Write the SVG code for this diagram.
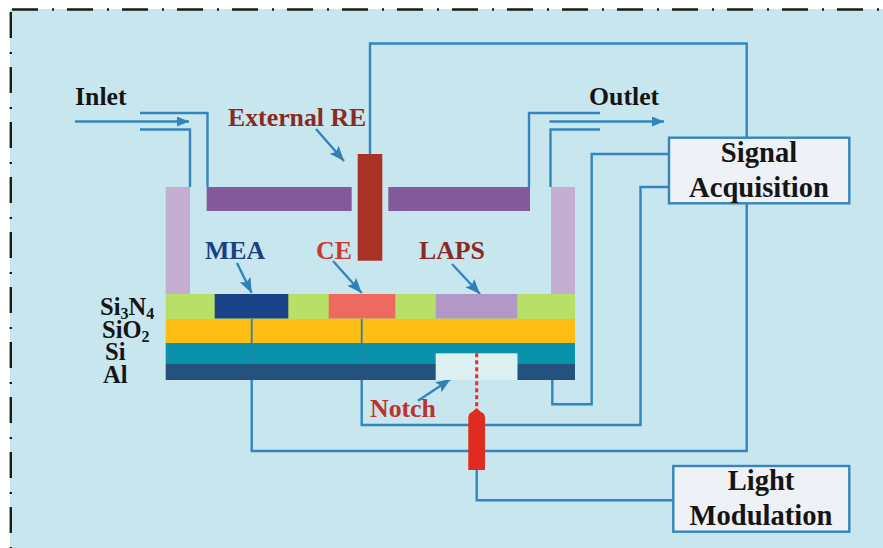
<svg xmlns="http://www.w3.org/2000/svg" width="883" height="548" viewBox="0 0 883 548">
<style>
.w{fill:none;stroke:#3485bd;stroke-width:2.4}
.t{font-family:"Liberation Serif",serif;font-weight:bold;font-size:25.8px}
.k{fill:#151515}
.l{font-size:24.5px}
.s{font-size:16px}
.h{font-size:28.6px}
.b{fill:#eef1f6;stroke:#3485bd;stroke-width:2.4}
</style>
<defs>
<marker id="a" markerUnits="userSpaceOnUse" markerWidth="14" markerHeight="12" refX="12" refY="5" orient="auto"><path d="M0 0L12 5L0 10z" fill="#3485bd"/></marker>
<marker id="p" markerUnits="userSpaceOnUse" markerWidth="18" markerHeight="14" refX="15" refY="6" orient="auto"><path d="M0 0L15 6L0 12L3 6z" fill="#2f80b8"/></marker>
</defs>
<rect width="883" height="548" fill="#fff"/>
<rect id="background" x="10" y="9" width="873" height="539" fill="#c8e6ee"/>
<g id="border" fill="none" stroke="#1a1a1a" stroke-width="2.4">
<path d="M12 9.5H883" stroke-dasharray="26 14 2 13"/>
<path d="M10.8 12V548" stroke-dasharray="26 14 2 13"/>
</g>
<g id="connectors">
<path class="w" d="M370 154V43.5H746.7V138"/>
<path class="w" d="M746.7 203V451H251.7V319"/>
<path class="w" d="M361.7 319V425H640.5V187H669"/>
<path class="w" d="M552.3 380V404.3H591.7V154H669"/>
<path class="w" d="M476.7 470V500.3H673"/>
<path class="w" d="M140 113H207.5V187"/>
<path class="w" d="M140 129.5H190V187"/>
<path class="w" d="M600 113H529V187"/>
<path class="w" d="M600 129.5H550.5V187"/>
<path class="w" d="M75 121.5H189" marker-end="url(#a)"/>
<path class="w" d="M549.5 121.5H664" marker-end="url(#a)"/>
<path class="w" d="M316 129L344 161" marker-end="url(#p)"/>
<path class="w" d="M237 263L251.7 293" marker-end="url(#p)"/>
<path class="w" d="M333 261L361.7 293" marker-end="url(#p)"/>
<path class="w" d="M452 264L480 294" marker-end="url(#p)"/>
<path class="w" d="M418 400.7L450.7 379" marker-end="url(#p)"/>
</g>
<g id="chamber">
<rect x="165.7" y="187" width="24.3" height="107" fill="#c4afd2"/>
<rect x="551" y="187" width="24" height="107" fill="#c4afd2"/>
<rect x="206.7" y="187" width="145" height="24" fill="#825a99"/>
<rect x="388.3" y="187" width="141.7" height="24" fill="#825a99"/>
</g>
<g id="layers">
<rect x="165.7" y="294" width="409.3" height="25" fill="#b8e068"/>
<rect x="165.7" y="319" width="409.3" height="24" fill="#fdbd13"/>
<rect x="165.7" y="343" width="409.3" height="21" fill="#0a92ad"/>
<rect x="165.7" y="364" width="409.3" height="16" fill="#25517e"/>
<rect x="435.7" y="353.3" width="81.8" height="26.7" fill="#dcf0f1"/>
<path d="M251.7 319V364M361.7 319V364" fill="none" stroke="#2f7fb0" stroke-width="1.8"/>
</g>
<g id="mea"><rect x="214.7" y="294" width="73.6" height="24.5" fill="#1a4289"/><text class="t" x="205" y="259" fill="#1a4080">MEA</text></g>
<g id="ce"><rect x="328.7" y="294" width="66.6" height="24.5" fill="#ee6a60"/><text class="t" x="316" y="259" fill="#c8392f">CE</text></g>
<g id="laps"><rect x="435.7" y="294" width="81.6" height="24.5" fill="#b298c6"/><text class="t" x="419" y="259" fill="#8a2a25">LAPS</text></g>
<g id="external-re"><rect x="357.7" y="154" width="24.6" height="106.7" fill="#a93226"/><text class="t" x="228" y="126" fill="#8a2a25">External RE</text></g>
<g id="light-source">
<path d="M476.7 353.3V408" fill="none" stroke="#ee2a2a" stroke-width="3" stroke-dasharray="4 3"/>
<path d="M468.3 470V417Q469 413 472 412L476.7 408L481 412Q484.5 413 485 417V470z" fill="#e02b20"/>
</g>
<g id="notch"><text class="t" x="370" y="417" fill="#c0302c">Notch</text></g>
<g id="inlet"><text class="t k" x="75" y="105">Inlet</text></g>
<g id="outlet"><text class="t k" x="589" y="105">Outlet</text></g>
<g id="layer-labels">
<text class="t k l" x="100" y="315">Si<tspan class="s" dy="4">3</tspan><tspan dy="-4">N</tspan><tspan class="s" dy="4">4</tspan></text>
<text class="t k l" x="102" y="338">SiO<tspan class="s" dy="4">2</tspan></text>
<text class="t k l" x="105" y="360">Si</text>
<text class="t k l" x="103" y="383">Al</text>
</g>
<g id="signal-acquisition">
<rect class="b" x="669" y="137.7" width="180.3" height="65.6"/>
<text class="t k h" x="759" y="162" text-anchor="middle">Signal</text>
<text class="t k h" x="759" y="197" text-anchor="middle">Acquisition</text>
</g>
<g id="light-modulation">
<rect class="b" x="673.3" y="466" width="176" height="65.7"/>
<text class="t k h" x="761" y="490" text-anchor="middle">Light</text>
<text class="t k h" x="761" y="525" text-anchor="middle">Modulation</text>
</g>
</svg>
